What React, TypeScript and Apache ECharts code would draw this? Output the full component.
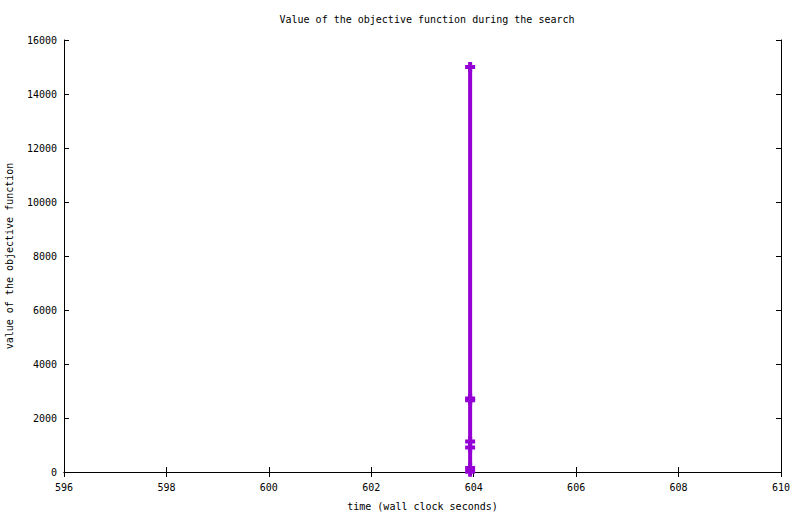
import React, { useEffect, useRef } from "react";
import * as echarts from "echarts";

const titleText = "Value of the objective function during the search";
const xLabel = "time (wall clock seconds)";
const yLabel = "value of the objective function";
const timeValues = [603.93, 603.93, 603.93, 603.93, 603.93, 603.93, 603.93];
const objectiveValues = [15000, 2720, 2660, 1130, 910, 150, 10];

const PLUS = "path://M3,0 H7 V3 H10 V7 H7 V10 H3 V7 H0 V3 H3 Z";
const FONT = "'DejaVu Sans Mono', 'Liberation Mono', monospace";

export default function App() {
  const ref = useRef<HTMLDivElement>(null);
  useEffect(() => {
    if (!ref.current) return;
    const chart = echarts.init(ref.current, null, { renderer: "svg" });
    const tickCommon = {
      axisLine: { show: true, lineStyle: { color: "#000", width: 1 } },
      axisTick: { show: true, inside: true, length: 5, lineStyle: { color: "#000" } },
      splitLine: { show: false },
    };
    chart.setOption({
      animation: false,
      backgroundColor: "#fff",
      title: {
        text: titleText,
        left: 422,
        textAlign: "center",
        top: 9,
        textStyle: { fontFamily: FONT, fontSize: 10, fontWeight: "normal", color: "#000" },
      },
      grid: { left: 64, right: 19, top: 40, bottom: 42, show: false, containLabel: false, outerBoundsMode: "none" },
      xAxis: [
        {
          type: "value",
          min: 596,
          max: 610,
          interval: 2,
          position: "bottom",
          ...tickCommon,
          axisLabel: { fontFamily: FONT, fontSize: 10, color: "#000", margin: 10 },
          name: xLabel,
          nameLocation: "middle",
          nameGap: 29,
          nameTextStyle: { fontFamily: FONT, fontSize: 10, color: "#000" },
        },
        {
          type: "value",
          min: 596,
          max: 610,
          interval: 2,
          position: "top",
          ...tickCommon,
          axisLabel: { show: false },
        },
      ],
      yAxis: [
        {
          type: "value",
          min: 0,
          max: 16000,
          interval: 2000,
          position: "left",
          ...tickCommon,
          axisLabel: { fontFamily: FONT, fontSize: 10, color: "#000", margin: 7, formatter: (v: number) => String(v) },
          name: yLabel,
          nameLocation: "middle",
          nameGap: 50,
          nameRotate: 90,
          nameTextStyle: { fontFamily: FONT, fontSize: 10, color: "#000" },
        },
        {
          type: "value",
          min: 0,
          max: 16000,
          interval: 2000,
          position: "right",
          ...tickCommon,
          axisLabel: { show: false },
        },
      ],
      series: [
        {
          type: "line",
          data: timeValues.map((t, i) => [t, objectiveValues[i]]),
          color: "#9400D3",
          lineStyle: { color: "#9400D3", width: 4 },
          itemStyle: { color: "#9400D3" },
          symbol: PLUS,
          symbolSize: 10,
          showAllSymbol: true,
          clip: false,
        },
      ],
    });
    return () => chart.dispose();
  }, []);
  return <div ref={ref} style={{ width: 800, height: 514, position: "absolute", left: 0, top: 0 }} />;
}
